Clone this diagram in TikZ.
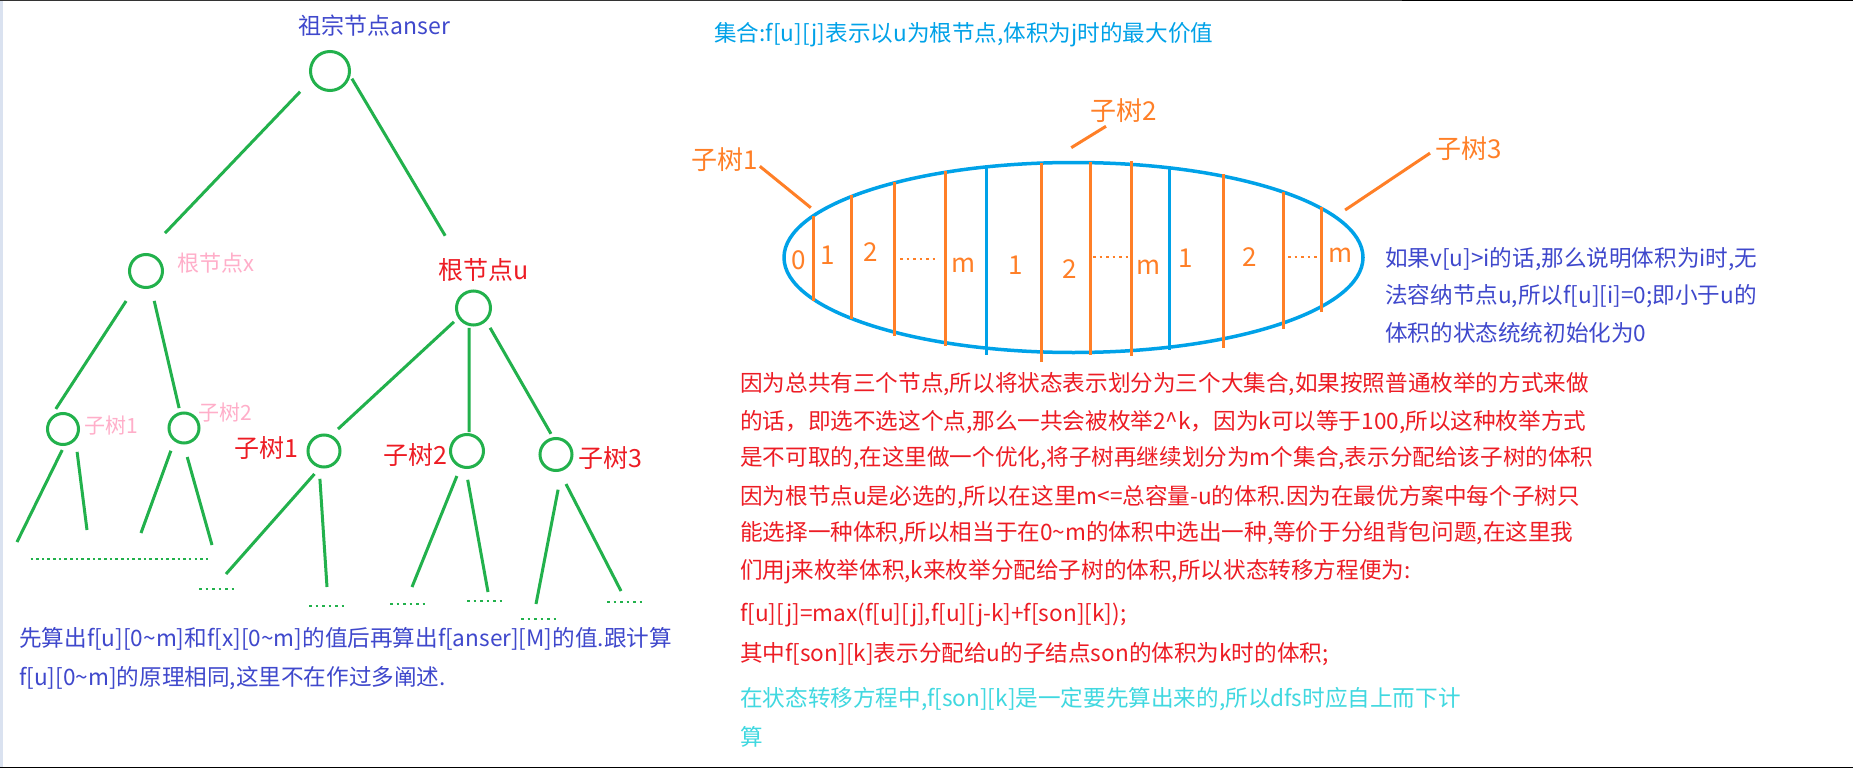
\documentclass[tikz,border=0pt]{standalone}
\usepackage{fontspec}
\setmainfont{Noto Sans CJK SC}
\usetikzlibrary{shapes.geometric}
\definecolor{tgreen}{HTML}{22B14C}
\definecolor{torange}{HTML}{FF7F27}
\definecolor{tsky}{HTML}{00A2E8}
\definecolor{tred}{HTML}{ED1C24}
\definecolor{tpink}{HTML}{FFAEC9}
\definecolor{tindigo}{HTML}{3F48CC}
\definecolor{tcyan}{HTML}{40D8E0}
\definecolor{tstrip}{HTML}{DAE2F0}
\newcommand\fsz[1]{\fontsize{#1pt}{#1pt}\selectfont}
\begin{document}
\begin{tikzpicture}[x=1pt,y=-1pt,
  tnode/.style={circle,draw=tgreen,line width=3pt,inner sep=0pt,minimum size=#1},
  tedge/.style={draw=tgreen,line width=3pt},
  oline/.style={draw=torange,line width=3pt},
  bline/.style={draw=tsky,line width=3pt},
  txt/.style={inner sep=0pt,anchor=base west},
  gdots/.style={draw=tgreen,line width=2.5pt,dash pattern=on 2.5pt off 3.16pt},
  gdots6/.style={draw=tgreen,line width=2.5pt,dash pattern=on 2.5pt off 4pt},
  odots/.style={draw=torange,line width=2.5pt,dash pattern=on 2.5pt off 4pt},
  body/.style={txt,font=\fsz{22.6}},
  digit/.style={inner sep=0pt,text=torange,font=\fsz{26}}]
\useasboundingbox (0,0) rectangle (1853,768);
\fill[white] (0,0) rectangle (1853,768);
\fill[tstrip] (0,0) rectangle (2.5,768);
\fill[black!80] (0,0) rectangle (1402,1.3);
\fill[black] (1402,0) rectangle (1853,1);
\fill[black] (0,766.5) rectangle (1853,768);

% ---------------- left tree ----------------
\node[txt,anchor=base,text=tindigo,font=\fsz{23}] (ttl) at (374.5,34.6) {祖宗节点anser};
\node[tnode=39pt] (root) at (330,71) {};
\node[tnode=33pt] (nx) at (146,271) {};
\node[tnode=34pt] (nu) at (473.5,308) {};
\node[tnode=31pt] (px1) at (63,429) {};
\node[tnode=30pt] (px2) at (184,428) {};
\node[tnode=32pt] (su1) at (324,451) {};
\node[tnode=33pt] (su2) at (467,451) {};
\node[tnode=32pt] (su3) at (556,454.5) {};

\node[txt,text=tpink,font=\fsz{22}] (lx) at (177,271.4) {根节点x};
\node[txt,text=tred,font=\fsz{25}] (lu) at (438,279.5) {根节点u};
\node[txt,text=tpink,font=\fsz{21}] (lp1) at (84,433) {子树1};
\node[txt,text=tpink,font=\fsz{21}] (lp2) at (198,420) {子树2};
\node[txt,text=tred,font=\fsz{25}] (ls1) at (234,457.5) {子树1};
\node[txt,text=tred,font=\fsz{25}] (ls2) at (383,464.5) {子树2};
\node[txt,text=tred,font=\fsz{25}] (ls3) at (578,467.5) {子树3};

\draw[tedge,shorten <=16pt,shorten >=27.5pt] (root.206.3) -- (nx.90.3);
\draw[tedge,shorten <=3pt,shorten >=63pt] (root.-14) -- (nu.78);
\draw[tedge,shorten <=18pt,shorten >=12.6pt] (nx.236.6) -- (px1.146);
\draw[tedge,shorten <=13pt,shorten >=4pt] (nx.-73.8) -- (px2.104.4);
\draw[tedge,shorten <=5.5pt,shorten >=9pt] (nu.213.5) -- (su1.65.3);
\draw[tedge,shorten <=2pt,shorten >=1pt] (nu.256) -- (su2.83.6);
\draw[tedge,shorten <=7.5pt,shorten >=4pt] (nu.-46.7) -- (su3.100.2);

\coordinate (a1) at (17,542);
\coordinate (a2) at (87,530);
\coordinate (a3) at (141,533);
\coordinate (a4) at (212,545);
\coordinate (b1) at (226,574);
\coordinate (b2) at (327,587);
\coordinate (b3) at (412,587);
\coordinate (b4) at (488,592);
\coordinate (b5) at (536,604);
\coordinate (b6) at (621,591);
\draw[tedge,shorten <=4.5pt] (px1.-86.6) -- (a1);
\draw[tedge,shorten <=11.6pt] (px1.-42.6) -- (a2);
\draw[tedge,shorten <=10pt] (px2.234.7) -- (a3);
\draw[tedge,shorten <=13pt] (px2.-91.7) -- (a4);
\draw[tedge,shorten <=8pt] (su1.256.1) -- (b1);
\draw[tedge,shorten <=11pt] (su1.254.4) -- (b2);
\draw[tedge,shorten <=9pt] (su2.248.1) -- (b3);
\draw[tedge,shorten <=11pt] (su2.266.8) -- (b4);
\draw[tedge,shorten <=19pt] (su3.-71) -- (b5);
\draw[tedge,shorten <=14pt] (su3.-78) -- (b6);

\draw[gdots] (30.5,559) -- (208.5,559);
\draw[gdots6] (199,589) -- (234,589);
\draw[gdots6] (309,606) -- (344,606);
\draw[gdots6] (390,604) -- (425,604);
\draw[gdots6] (467,601) -- (502,601);
\draw[gdots6] (521,619) -- (556,619);
\draw[gdots6] (607,602) -- (642,602);

\node[body,text=tindigo] (bl1) at (19,646.4) {先算出f[u][0\textasciitilde m]和f[x][0\textasciitilde m]的值后再算出f[anser][M]的值.跟计算};
\node[body,text=tindigo] (bl2) at (19,685.4) {f[u][0\textasciitilde m]的原理相同,这里不在作过多阐述.};

% ---------------- right part ----------------
\node[body,text=tsky] (top) at (714,41.4) {集合:f[u][j]表示以u为根节点,体积为j时的最大价值};

\node[ellipse,draw=tsky,line width=3.5pt,inner sep=0pt,minimum width=579pt,minimum height=190pt] (set) at (1073.5,257.5) {};

\draw[oline] (813,216) -- (813,301);
\draw[oline] (851,195) -- (851,319);
\draw[oline] (894,182) -- (894,336);
\draw[oline] (945,171) -- (945,346);
\draw[bline] (986,167) -- (986,355);
\draw[oline] (1041,163) -- (1041,362);
\draw[oline] (1090,162) -- (1090,355);
\draw[oline] (1131,161) -- (1131,356);
\draw[bline] (1169,167) -- (1169,350);
\draw[oline] (1223,174) -- (1223,348);
\draw[oline] (1283,192) -- (1283,329);
\draw[oline] (1321,207) -- (1321,312);

\node[digit] (d0) at (799,260) {0};
\node[digit] (d1) at (828,255) {1};
\node[digit] (d2) at (871,252) {2};
\node[digit] (d3) at (964,265) {m};
\node[digit] (d4) at (1016,265) {1};
\node[digit] (d5) at (1070,269) {2};
\node[digit] (d6) at (1149,267) {m};
\node[digit] (d7) at (1186,258) {1};
\node[digit] (d8) at (1250,257) {2};
\node[digit] (d9) at (1341,255) {m};
\draw[odots] (900,259) -- (935,259);
\draw[odots] (1093,257) -- (1128,257);
\draw[odots] (1288,257) -- (1318,257);

\node[txt,text=torange,font=\fsz{26}] (o1) at (691,169) {子树1};
\node[txt,text=torange,font=\fsz{26}] (o2) at (1090,121) {子树2};
\node[txt,text=torange,font=\fsz{26}] (o3) at (1435,158) {子树3};
\draw[oline,shorten >=7pt] ([shift={(2,-5)}]o1.south east) -- (set.170);
\draw[oline,shorten >=25.6pt] ([shift={(16,3)}]o2.south west) -- (set.104.2);
\draw[oline,shorten >=10.5pt] ([shift={(-5,5)}]o3.west) -- (set.9.93);

\node[body,text=tindigo] (rb1) at (1385,266.4) {如果v[u]>i的话,那么说明体积为i时,无};
\node[body,text=tindigo] (rb2) at (1385,303.4) {法容纳节点u,所以f[u][i]=0;即小于u的};
\node[body,text=tindigo] (rb3) at (1385,341.4) {体积的状态统统初始化为0};

\node[body,text=tred] (r1) at (740,391.4) {因为总共有三个节点,所以将状态表示划分为三个大集合,如果按照普通枚举的方式来做};
\node[body,text=tred] (r2) at (740,429.4) {的话，即选不选这个点,那么一共会被枚举2\textasciicircum k，因为k可以等于100,所以这种枚举方式};
\node[body,text=tred] (r3) at (740,465.4) {是不可取的,在这里做一个优化,将子树再继续划分为m个集合,表示分配给该子树的体积};
\node[body,text=tred] (r4) at (740,504.4) {因为根节点u是必选的,所以在这里m<=总容量-u的体积.因为在最优方案中每个子树只};
\node[body,text=tred] (r5) at (740,540.4) {能选择一种体积,所以相当于在0\textasciitilde m的体积中选出一种,等价于分组背包问题,在这里我};
\node[body,text=tred] (r6) at (740,578.4) {们用j来枚举体积,k来枚举分配给子树的体积,所以状态转移方程便为:};
\node[body,text=tred] (r7) at (740,621.4) {f[u][j]=max(f[u][j],f[u][j-k]+f[son][k]);};
\node[body,text=tred] (r8) at (740,661.4) {其中f[son][k]表示分配给u的子结点son的体积为k时的体积;};

\node[body,text=tcyan] (c1) at (740,706.4) {在状态转移方程中,f[son][k]是一定要先算出来的,所以dfs时应自上而下计};
\node[body,text=tcyan] (c2) at (740,745.4) {算};
\end{tikzpicture}
\end{document}
